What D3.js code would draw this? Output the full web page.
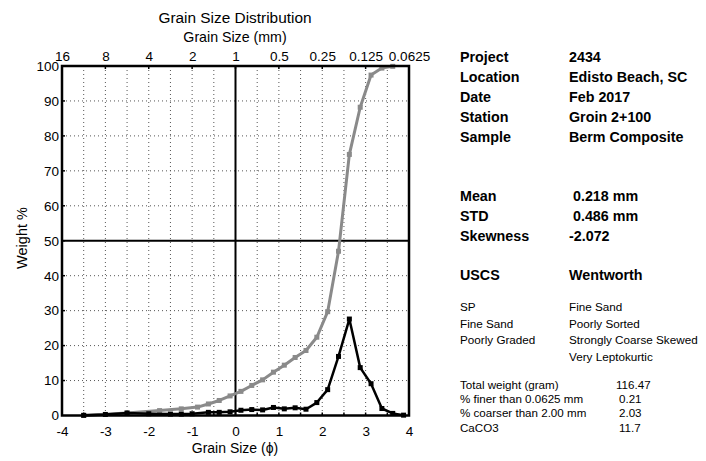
<!DOCTYPE html>
<html>
<head>
<meta charset="utf-8">
<script src="https://cdn.jsdelivr.net/npm/d3@7"></script>
<style>
  html, body { margin: 0; padding: 0; background: #fff; }
  svg { display: block; font-family: "Liberation Sans", Arial, sans-serif; }
</style>
</head>
<body>
<svg id="chart" width="706" height="461"></svg>
<script>
// ---------------- data ----------------
const phiTicks = [-4, -3, -2, -1, 0, 1, 2, 3, 4];
const mmTickLabels = ["16", "8", "4", "2", "1", "0.5", "0.25", "0.125", "0.0625"];
const weightTicks = [0, 10, 20, 30, 40, 50, 60, 70, 80, 90, 100];

// individual (frequency) weight %
const freqPhi = [-3.5, -3, -2.5, -2, -1.5, -1.25, -1, -0.625, -0.375, -0.125, 0.125, 0.375, 0.625, 0.875, 1.125, 1.375, 1.625, 1.875, 2.125, 2.375, 2.625, 2.875, 3.125, 3.375, 3.625, 3.875];
const freqPct = [0.05, 0.3, 0.7, 0.5, 0.4, 0.4, 0.5, 0.9, 0.9, 1.05, 1.5, 1.7, 1.6, 2.3, 1.9, 2.2, 1.8, 3.7, 7.4, 16.9, 27.6, 13.7, 9.1, 2.0, 0.6, 0.1];

// cumulative weight %
const cumPhi = [-3.5, -2.5, -1.75, -1.25, -0.875, -0.625, -0.375, -0.125, 0.125, 0.375, 0.625, 0.875, 1.125, 1.375, 1.625, 1.875, 2.125, 2.375, 2.625, 2.875, 3.125, 3.375, 3.625];
const cumPct = [0, 0.7, 1.4, 1.9, 2.4, 3.3, 4.3, 5.6, 6.9, 8.6, 10.2, 12.4, 14.4, 16.6, 18.6, 22.4, 29.7, 47.0, 74.7, 88.2, 97.4, 99.4, 99.9];

const infoLabels = ["Project", "Location", "Date", "Station", "Sample"];
const infoValues = ["2434", "Edisto Beach, SC", "Feb 2017", "Groin 2+100", "Berm Composite"];
const statLabels = ["Mean", "STD", "Skewness"];
const statValues = [" 0.218 mm", " 0.486 mm", "-2.072"];
const uscsLines = ["SP", "Fine Sand", "Poorly Graded"];
const wentLines = ["Fine Sand", "Poorly Sorted", "Strongly Coarse Skewed", "Very Leptokurtic"];
const sumLabels = ["Total weight (gram)", "% finer than 0.0625 mm", "% coarser than 2.00 mm", "CaCO3"];
const sumValues = ["116.47", "0.21", "2.03", "11.7"];

// ---------------- chart ----------------
const svg = d3.select("#chart");
const L = 62, R = 409, T = 66, B = 415.5;
const x = d3.scaleLinear().domain([-4, 4]).range([L, R]);
const y = d3.scaleLinear().domain([0, 100]).range([B, T]);

// dotted grid
const gridX = d3.range(-3.5, 4, 0.5).filter(v => v !== 0);
svg.append("g").selectAll("line").data(gridX).join("line")
  .attr("x1", d => x(d)).attr("x2", d => x(d)).attr("y1", T).attr("y2", B)
  .attr("stroke", "#555").attr("stroke-width", 1).attr("stroke-dasharray", "1,3");
svg.append("g").selectAll("line").data(weightTicks.filter(v => v > 0 && v < 100 && v !== 50)).join("line")
  .attr("x1", L).attr("x2", R).attr("y1", d => y(d)).attr("y2", d => y(d))
  .attr("stroke", "#555").attr("stroke-width", 1).attr("stroke-dasharray", "1,3");

// solid cross lines
svg.append("line").attr("x1", x(0)).attr("x2", x(0)).attr("y1", T).attr("y2", B)
  .attr("stroke", "#000").attr("stroke-width", 2);
svg.append("line").attr("x1", L).attr("x2", R).attr("y1", y(50)).attr("y2", y(50))
  .attr("stroke", "#000").attr("stroke-width", 2);

// axes
const bottomAxis = d3.axisBottom(x).tickValues(phiTicks).tickSize(0).tickPadding(11).tickFormat(d => String(d));
const gB = svg.append("g").attr("transform", `translate(0,${B})`).call(bottomAxis);
const topAxis = d3.axisTop(x).tickValues(phiTicks).tickSize(0).tickPadding(5).tickFormat((d, i) => mmTickLabels[i]);
const gT = svg.append("g").attr("transform", `translate(0,${T})`).call(topAxis);
const leftAxis = d3.axisLeft(y).tickValues(weightTicks).tickSize(0).tickPadding(3).tickFormat(d => String(d));
const gL = svg.append("g").attr("transform", `translate(${L},0)`).call(leftAxis);
[gB, gT, gL].forEach(g => {
  g.select(".domain").remove();
  g.selectAll("text").attr("font-size", "13.5px").attr("fill", "#000")
    .attr("font-family", '"Liberation Sans", Arial, sans-serif');
});

// small inner ticks
svg.append("g").selectAll("line").data(d3.range(-3.5, 4, 0.5)).join("line")
  .attr("x1", d => x(d)).attr("x2", d => x(d)).attr("y1", B).attr("y2", B - 3)
  .attr("stroke", "#000").attr("stroke-width", 1.5);
svg.append("g").selectAll("line").data(d3.range(-3, 4, 1)).join("line")
  .attr("x1", d => x(d)).attr("x2", d => x(d)).attr("y1", T).attr("y2", T + 3)
  .attr("stroke", "#000").attr("stroke-width", 1.5);
svg.append("g").selectAll("line").data(weightTicks.slice(1, -1)).join("line")
  .attr("x1", L).attr("x2", L + 3).attr("y1", d => y(d)).attr("y2", d => y(d))
  .attr("stroke", "#000").attr("stroke-width", 1.5);

// series
const line = d3.line().x(d => x(d[0])).y(d => y(d[1]));
const cumData = cumPhi.map((p, i) => [p, cumPct[i]]);
const freqData = freqPhi.map((p, i) => [p, freqPct[i]]);
const gray = "#8a8a8a";

svg.append("path").datum(cumData).attr("d", line)
  .attr("fill", "none").attr("stroke", gray).attr("stroke-width", 3).attr("stroke-linejoin", "round");
svg.append("g").selectAll("rect").data(cumData).join("rect")
  .attr("x", d => x(d[0]) - 2.5).attr("y", d => y(d[1]) - 2.5)
  .attr("width", 5).attr("height", 5).attr("fill", gray);

svg.append("path").datum(freqData).attr("d", line)
  .attr("fill", "none").attr("stroke", "#000").attr("stroke-width", 2.5).attr("stroke-linejoin", "round");
svg.append("g").selectAll("rect").data(freqData).join("rect")
  .attr("x", d => x(d[0]) - 2.5).attr("y", d => y(d[1]) - 2.5)
  .attr("width", 5).attr("height", 5).attr("fill", "#000");

// frame
svg.append("rect").attr("x", L).attr("y", T).attr("width", R - L).attr("height", B - T)
  .attr("fill", "none").attr("stroke", "#000").attr("stroke-width", 2.5);

// titles
svg.append("text").attr("x", 235).attr("y", 23).attr("text-anchor", "middle")
  .attr("font-size", "15.4px").text("Grain Size Distribution");
svg.append("text").attr("x", 235).attr("y", 42).attr("text-anchor", "middle")
  .attr("font-size", "14.2px").text("Grain Size (mm)");
svg.append("text").attr("x", 235).attr("y", 453).attr("text-anchor", "middle")
  .attr("font-size", "14px").text("Grain Size (ϕ)");
svg.append("text").attr("transform", "translate(27,238) rotate(-90)").attr("text-anchor", "middle")
  .attr("font-size", "14.5px").text("Weight %");

// ---------------- info panel ----------------
const panel = svg.append("g");
const colA = 460, colB = 569;
infoLabels.forEach((t, i) => {
  panel.append("text").attr("x", colA).attr("y", 62 + i * 20).attr("font-size", "14.3px").attr("font-weight", "bold").text(t);
  panel.append("text").attr("x", colB).attr("y", 62 + i * 20).attr("font-size", "14.3px").attr("font-weight", "bold").text(infoValues[i]);
});
statLabels.forEach((t, i) => {
  panel.append("text").attr("x", colA).attr("y", 201 + i * 20).attr("font-size", "14.3px").attr("font-weight", "bold").text(t);
  panel.append("text").attr("x", colB).attr("y", 201 + i * 20).attr("font-size", "14.3px").attr("font-weight", "bold")
    .attr("xml:space", "preserve").style("white-space", "pre").text(statValues[i]);
});
panel.append("text").attr("x", colA).attr("y", 280).attr("font-size", "14.3px").attr("font-weight", "bold").text("USCS");
panel.append("text").attr("x", colB).attr("y", 280).attr("font-size", "14.3px").attr("font-weight", "bold").text("Wentworth");
uscsLines.forEach((t, i) => {
  panel.append("text").attr("x", colA).attr("y", 311 + i * 16.6).attr("font-size", "11.7px").text(t);
});
wentLines.forEach((t, i) => {
  panel.append("text").attr("x", colB).attr("y", 311 + i * 16.6).attr("font-size", "11.7px").text(t);
});
const sumX = [616, 619, 619, 619];
sumLabels.forEach((t, i) => {
  panel.append("text").attr("x", colA).attr("y", 389 + i * 14.2).attr("font-size", "11.6px").text(t);
  panel.append("text").attr("x", sumX[i]).attr("y", 389 + i * 14.2).attr("font-size", "11.6px").text(sumValues[i]);
});
</script>
</body>
</html>
